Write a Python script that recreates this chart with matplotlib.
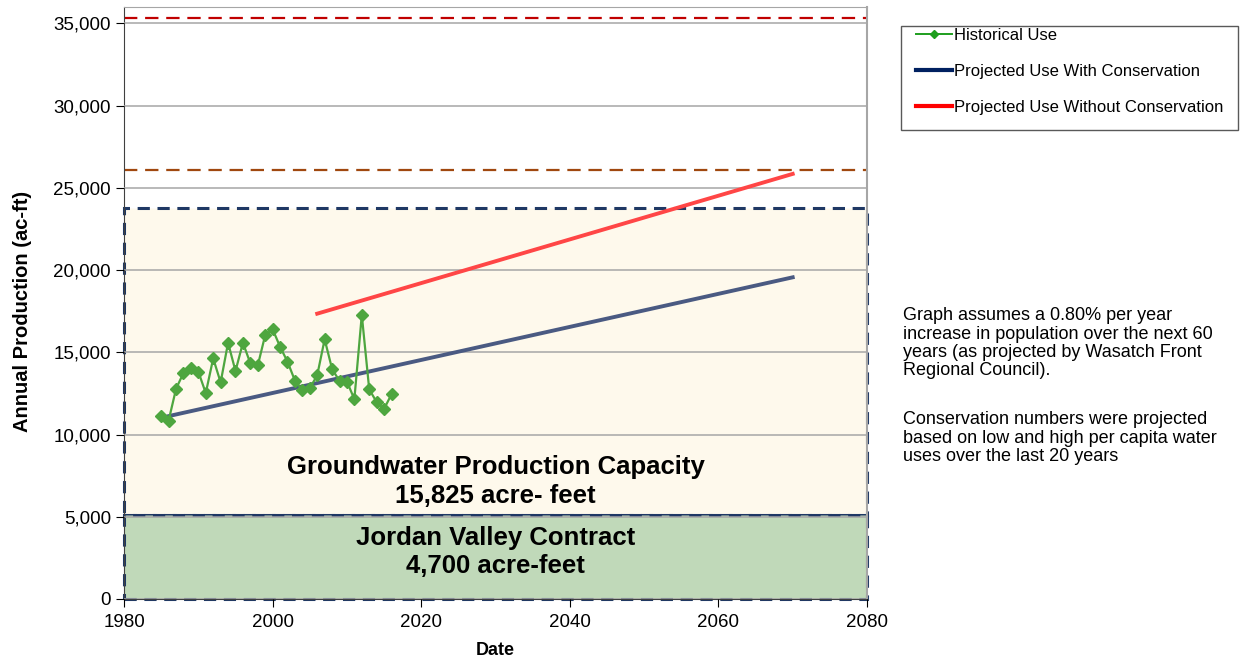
import numpy as np
import matplotlib.pyplot as plt
from matplotlib.patches import Rectangle
from matplotlib.lines import Line2D
from matplotlib.ticker import FuncFormatter

plt.rcParams['font.family'] = ['Liberation Sans', 'DejaVu Sans']

# historical production (ac-ft)
years = np.arange(1985, 2017)
hist_use = [11150, 10850, 12780, 13750, 14060, 13820, 12520, 14630, 13170, 15580,
            13860, 15580, 14330, 14200, 16050, 16400, 15340, 14430, 13280, 12720,
            12820, 13600, 15790, 13990, 13250, 13220, 12150, 17270, 12750, 11970,
            11560, 12450]

# projections (start / end points)
proj_years_cons = [1986, 2070]
proj_cons = [11120, 19560]
proj_years_nocons = [2006, 2070]
proj_nocons = [17350, 25850]

# supply levels
contract_top = 5100
groundwater_top = 23800
limit_upper = 35300
limit_lower = 26100

fig = plt.figure(figsize=(12.43, 6.58), dpi=100)
ax = fig.add_axes([0.0998, 0.0897, 0.5977, 0.8997])

ax.set_xlim(1980, 2080)
ax.set_ylim(0, 36000)

# shaded supply boxes
ax.add_patch(Rectangle((1980, contract_top), 100, groundwater_top - contract_top,
                       facecolor='#fef9ec', edgecolor='#1f3864', linestyle=(0, (4, 2.5)),
                       linewidth=2.2, zorder=1, clip_on=False))
ax.add_patch(Rectangle((1980, 0), 100, contract_top,
                       facecolor='#c0d9b9', edgecolor='#1f3864', linestyle=(0, (4, 2.5)),
                       linewidth=2.2, zorder=1, clip_on=False))

ax.set_yticks(np.arange(0, 35001, 5000))
ax.set_xticks(np.arange(1980, 2081, 20))
ax.yaxis.grid(True, color='#a6a6a6', linewidth=1.1)
ax.set_axisbelow(False)
for gl in ax.get_ygridlines():
    gl.set_zorder(1.5)

ax.axhline(limit_upper, color='#c00000', linestyle=(0, (6, 3.5)), linewidth=1.6, zorder=2)
ax.axhline(limit_lower, color='#a0480f', linestyle=(0, (6, 3.5)), linewidth=1.6, zorder=2)

ax.plot(proj_years_cons, proj_cons, color='#4a5a82', linewidth=2.8, zorder=3)
ax.plot(proj_years_nocons, proj_nocons, color='#ff4646', linewidth=2.8, zorder=3)
ax.plot(years, hist_use, color='#4ea63f', marker='D', markersize=6.5, linewidth=1.6, zorder=4)

ax.text(2030, 7150, 'Groundwater Production Capacity\n15,825 acre- feet',
        ha='center', va='center', fontsize=18.5, fontweight='bold', linespacing=1.25, zorder=5)
ax.text(2030, 2850, 'Jordan Valley Contract\n4,700 acre-feet',
        ha='center', va='center', fontsize=18.5, fontweight='bold', linespacing=1.25, zorder=5)

ax.yaxis.set_major_formatter(FuncFormatter(lambda v, p: f'{int(v):,}'))
ax.tick_params(axis='both', labelsize=13.5, length=6, direction='out')
ax.tick_params(axis='x', pad=5)
ax.set_xlabel('Date', fontsize=13, fontweight='bold', labelpad=8)
ax.set_ylabel('Annual Production (ac-ft)', fontsize=14.5, fontweight='bold')
ax.yaxis.set_label_coords(-0.124, 0.485)

ax.spines['left'].set_color('#404040')
ax.spines['bottom'].set_color('#404040')
ax.spines['top'].set_color('#a6a6a6')
ax.spines['right'].set_color('#a6a6a6')
ax.spines['right'].set_linewidth(1.5)

# legend frame drawn separately (text hugs the top edge in the original)
fig.patches.append(Rectangle((0.7249, 0.8024), 0.2711, 0.158, transform=fig.transFigure,
                             facecolor='white', edgecolor='#595959', linewidth=1.0))
handles = [Line2D([], [], color='#1e9e1e', marker='D', markersize=4.5, linewidth=1.4),
           Line2D([], [], color='#002060', linewidth=3),
           Line2D([], [], color='#ff0000', linewidth=3)]
labels = ['Historical Use', 'Projected Use With Conservation', 'Projected Use Without Conservation']
fig.legend(handles, labels, loc='upper left', bbox_to_anchor=(0.7369, 0.958),
           fontsize=12, frameon=False, labelspacing=1.27, handlelength=2.15,
           handletextpad=0.15, borderpad=0, borderaxespad=0)

note_kw = dict(ha='left', va='top', fontsize=13, linespacing=1.1)
fig.text(0.7265, 0.533,
         'Graph assumes a 0.80% per year\nincrease in population over the next 60\n'
         'years (as projected by Wasatch Front\nRegional Council).', **note_kw)
fig.text(0.7265, 0.375,
         'Conservation numbers were projected\nbased on low and high per capita water\n'
         'uses over the last 20 years', **note_kw)

fig.savefig('out.png', dpi=100)
